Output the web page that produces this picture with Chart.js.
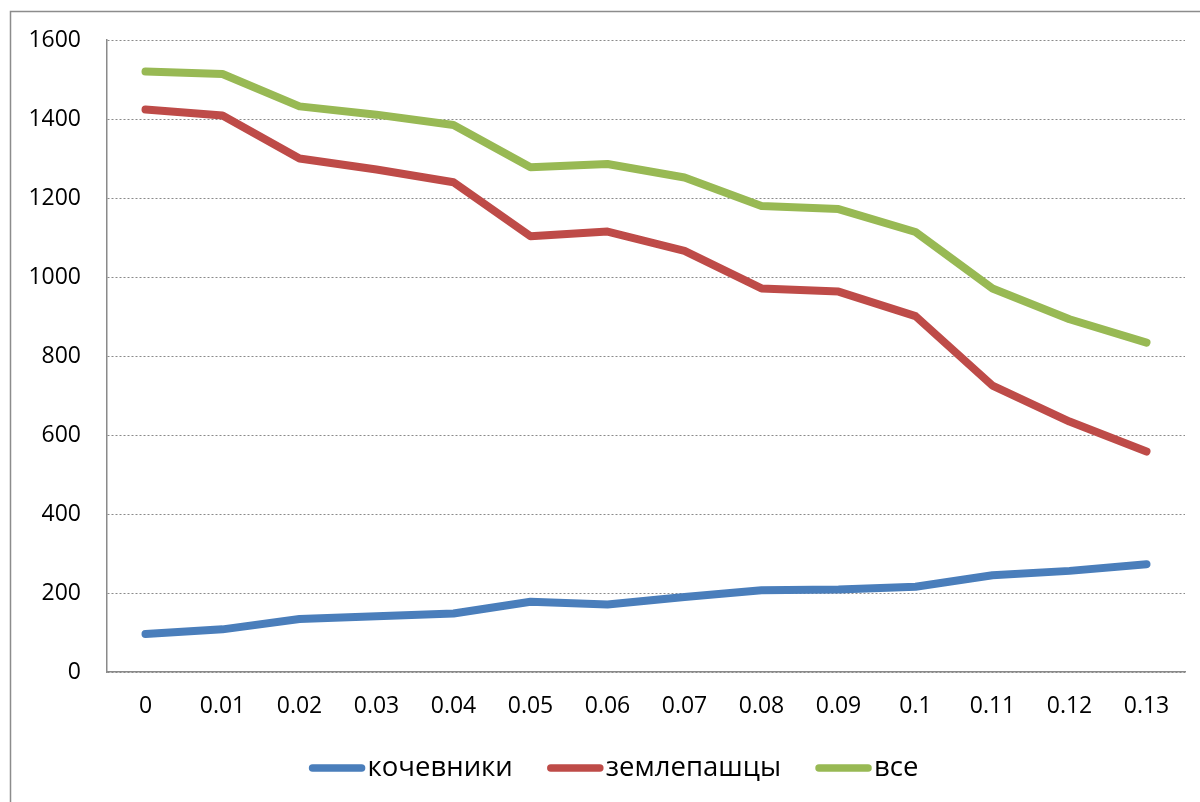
<!DOCTYPE html>
<html>
<head>
<meta charset="utf-8">
<script src="https://cdn.jsdelivr.net/npm/chart.js@4"></script>
<style>
  html, body { margin: 0; padding: 0; background: #fff; }
  #wrap { width: 1200px; height: 802px; }
</style>
</head>
<body>
<div id="wrap"><canvas id="chart" width="1200" height="802"></canvas></div>
<script>
const categories = ['0', '0.01', '0.02', '0.03', '0.04', '0.05', '0.06', '0.07', '0.08', '0.09', '0.1', '0.11', '0.12', '0.13'];
const nomads = [96, 108, 134, 141, 148, 178, 171, 190, 207, 209, 216, 245, 256, 273];
const farmers = [1424, 1409, 1300, 1272, 1240, 1103, 1115, 1066, 971, 963, 901, 725, 634, 558];
const everyone = [1520, 1514, 1432, 1411, 1385, 1278, 1286, 1252, 1180, 1172, 1114, 971, 893, 834];
const yTicks = [0, 200, 400, 600, 800, 1000, 1200, 1400, 1600];

const FONT = '"Open Sans", "Noto Sans", sans-serif';
const GRID = '#8a8a8a';

// outer frame of the chart object
const frame = {
    id: 'frame',
    beforeDraw(chart) {
        const ctx = chart.ctx;
        ctx.save();
        ctx.fillStyle = '#fff';
        ctx.fillRect(0, 0, chart.width, chart.height);
        ctx.strokeStyle = '#8c8c8c';
        ctx.lineWidth = 1.5;
        ctx.strokeRect(10.5, 11.5, 1200, 800);
        ctx.restore();
    }
};

// legend under the axis: line sample with the name right after it
const lineLegend = {
    id: 'lineLegend',
    afterDraw(chart) {
        const ctx = chart.ctx;
        const sample = 55, gap = 3, space = 35;
        ctx.save();
        ctx.font = '27.5px ' + FONT;
        const items = chart.data.datasets.map(ds => ({
            label: ds.label, color: ds.borderColor, w: ctx.measureText(ds.label).width
        }));
        let total = 0;
        items.forEach((it, i) => { total += sample + gap + it.w + (i ? space : 0); });
        let x = 614 - total / 2;
        const y = 768;
        items.forEach(it => {
            ctx.strokeStyle = it.color;
            ctx.lineWidth = 7.5;
            ctx.lineCap = 'round';
            ctx.beginPath();
            ctx.moveTo(x + 3, y);
            ctx.lineTo(x + sample - 3, y);
            ctx.stroke();
            x += sample + gap;
            ctx.fillStyle = '#000';
            ctx.textBaseline = 'middle';
            ctx.fillText(it.label, x, y);
            x += it.w + space;
        });
        ctx.restore();
    }
};

const line = (label, data, color) => ({
    label: label,
    data: data,
    borderColor: color,
    backgroundColor: color,
    borderWidth: 8,
    borderCapStyle: 'round',
    borderJoinStyle: 'round',
    pointRadius: 0,
    tension: 0
});

new Chart(document.getElementById('chart'), {
    type: 'line',
    data: {
        labels: categories,
        datasets: [
            line('кочевники', nomads, '#4a7ebb'),
            line('землепашцы', farmers, '#be4b48'),
            line('все', everyone, '#98b954')
        ]
    },
    options: {
        responsive: false,
        animation: false,
        layout: { padding: { left: 10, top: 40, right: 15, bottom: 0 } },
        scales: {
            x: {
                offset: true,
                grid: { display: false, drawTicks: false },
                border: { color: GRID, width: 1.5 },
                ticks: { color: '#000', font: { family: FONT, size: 23 }, padding: 21, maxRotation: 0, autoSkip: false },
                afterFit(scale) { scale.height = 130; }
            },
            y: {
                min: 0,
                max: 1600,
                afterBuildTicks(scale) { scale.ticks = yTicks.map(v => ({ value: v })); },
                grid: { color: GRID, lineWidth: 1, drawTicks: false },
                border: { color: GRID, width: 1.5, dash: [2, 2] },
                ticks: {
                    color: '#000',
                    font: { family: FONT, size: 23 },
                    padding: 26,
                    callback: v => String(v)
                },
                afterFit(scale) { scale.width = 97; }
            }
        },
        plugins: {
            legend: { display: false },
            tooltip: { enabled: false }
        }
    },
    plugins: [frame, lineLegend]
});
</script>
</body>
</html>
